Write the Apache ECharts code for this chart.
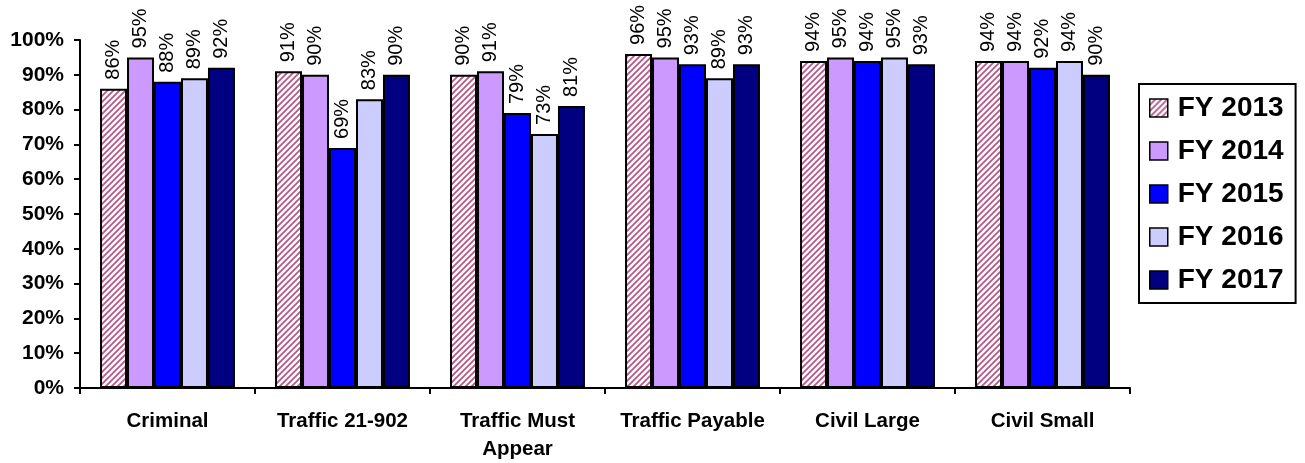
<!DOCTYPE html>
<html>
<head>
<meta charset="utf-8">
<script src="https://cdn.jsdelivr.net/npm/echarts@6/dist/echarts.min.js"></script>
<style>
html,body{margin:0;padding:0;background:#fff;}
#chart{width:1305px;height:463px;}
</style>
</head>
<body>
<div id="chart"></div>
<script>
var categories = ['Criminal', 'Traffic 21-902', 'Traffic Must\nAppear', 'Traffic Payable', 'Civil Large', 'Civil Small'];
var seriesNames = ['FY 2013', 'FY 2014', 'FY 2015', 'FY 2016', 'FY 2017'];
var fy2013 = [86, 91, 90, 96, 94, 94];
var fy2014 = [95, 90, 91, 95, 95, 94];
var fy2015 = [88, 69, 79, 93, 94, 92];
var fy2016 = [89, 83, 73, 89, 95, 94];
var fy2017 = [92, 90, 81, 93, 93, 90];
var yTicks = [0, 10, 20, 30, 40, 50, 60, 70, 80, 90, 100];

function hatch() {
  var c = document.createElement('canvas');
  c.width = 6; c.height = 6;
  var g = c.getContext('2d');
  g.fillStyle = '#ffffff';
  g.fillRect(0, 0, 6, 6);
  g.strokeStyle = '#b85a88';
  g.lineWidth = 1.8;
  g.beginPath();
  g.moveTo(-1, 7); g.lineTo(7, -1);
  g.moveTo(-1, 1); g.lineTo(1, -1);
  g.moveTo(5, 7); g.lineTo(7, 5);
  g.stroke();
  return c;
}

var colors = [{image: hatch(), repeat: 'repeat'}, '#cc99ff', '#0000ff', '#ccccff', '#000080'];
var values = [fy2013, fy2014, fy2015, fy2016, fy2017];
var FONT = 'Arial, "Liberation Sans", sans-serif';

var chart = echarts.init(document.getElementById('chart'), null, {renderer: 'canvas'});
var series = seriesNames.map(function (n, i) {
  return {
    name: n,
    type: 'bar',
    data: values[i],
    barGap: '0%',
    barCategoryGap: '22.9%',
    itemStyle: {color: colors[i], borderColor: '#000', borderWidth: 2},
    label: {
      show: true,
      position: 'top',
      rotate: 90,
      align: 'left',
      verticalAlign: 'middle',
      distance: 9,
      formatter: '{c}%',
      color: '#000',
      fontFamily: FONT,
      fontSize: 20
    },
    emphasis: {disabled: true}
  };
});

chart.setOption({
  animation: false,
  backgroundColor: '#fff',
  grid: {left: 80, right: 175, top: 40, bottom: 73, containLabel: false},
  legend: {
    orient: 'vertical',
    left: 1139,
    top: 84,
    data: seriesNames,
    backgroundColor: '#fff',
    borderColor: '#000',
    borderWidth: 2,
    padding: [10, 12, 9, 10],
    itemWidth: 18,
    itemHeight: 18,
    itemGap: 15,
    icon: 'rect',
    itemStyle: {borderColor: '#000', borderWidth: 1.5},
    textStyle: {fontFamily: FONT, fontSize: 28, fontWeight: 'bold', color: '#000', lineHeight: 27, padding: [0, 0, 0, 5]}
  },
  xAxis: {
    type: 'category',
    data: categories,
    axisLine: {lineStyle: {color: '#000', width: 2}},
    axisTick: {show: true, length: 6, lineStyle: {color: '#000', width: 2}},
    axisLabel: {fontFamily: FONT, fontSize: 20.5, fontWeight: 'bold', color: '#000', margin: 19, lineHeight: 28, interval: 0}
  },
  yAxis: {
    type: 'value',
    min: yTicks[0],
    max: yTicks[yTicks.length - 1],
    interval: 10,
    axisLine: {show: true, lineStyle: {color: '#000', width: 2}},
    axisTick: {show: true, length: 6, lineStyle: {color: '#000', width: 2}},
    splitLine: {show: false},
    axisLabel: {fontFamily: FONT, fontSize: 21, fontWeight: 'bold', color: '#000', margin: 16, formatter: '{value}%'}
  },
  series: series
});
</script>
</body>
</html>
